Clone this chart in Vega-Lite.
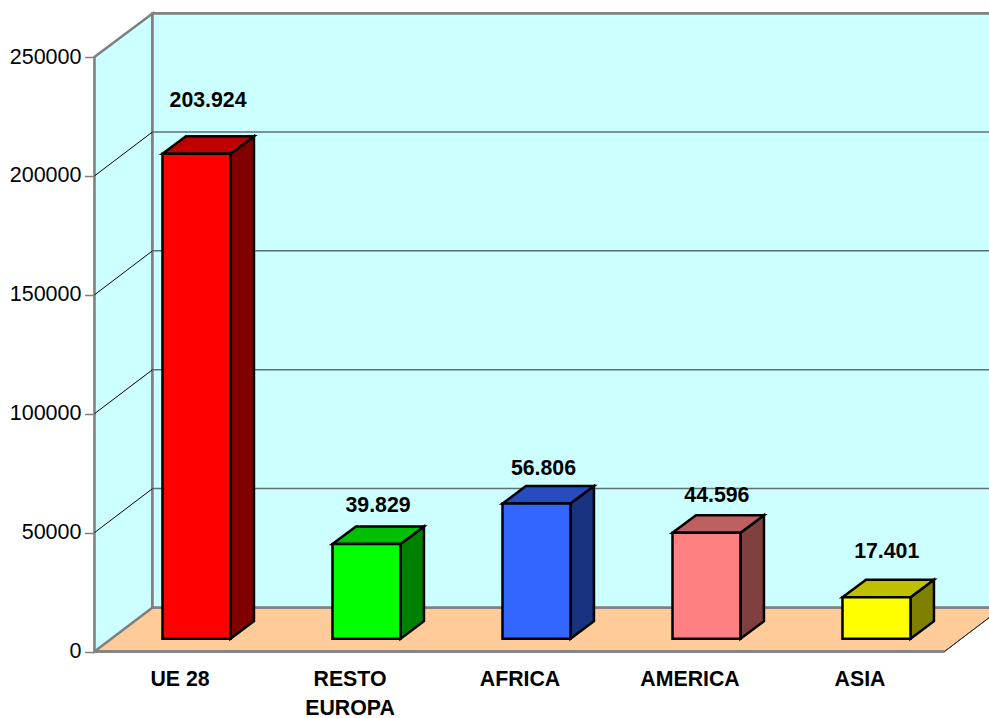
{
"$schema":"https://vega.github.io/schema/vega-lite/v6.json",
"width":894.5,"height":594.5,
"autosize":{"type":"none"},
"padding":{"left":94.5,"top":57,"right":0,"bottom":66.5},
"background":"white",
"config":{"view":{"stroke":null},"font":"Liberation Sans"},
"datasets":{
"bars":[
{"region":"UE 28","value":203924,"label":"203.924"},
{"region":"RESTO EUROPA","value":39829,"label":"39.829"},
{"region":"AFRICA","value":56806,"label":"56.806"},
{"region":"AMERICA","value":44596,"label":"44.596"},
{"region":"ASIA","value":17401,"label":"17.401"}
],
"ticks":[{"tick":50000},{"tick":100000},{"tick":150000},{"tick":200000}],
"frame":[{"depth":0},{"depth":1}]
},
"resolve":{"scale":{"color":"independent"}},
"layer":[
{"data":{"name":"frame"},
 "transform":[{"calculate":"datum.depth*0.3412","as":"x"},{"calculate":"5+datum.depth*0.3412","as":"x2"},{"calculate":"datum.depth*18500","as":"y"}],
 "mark":{"type":"area","fill":"#FFCC99","orient":"horizontal"},
 "encoding":{
  "x":{"field":"x","type":"quantitative","scale":{"domain":[0,5.2618],"nice":false,"zero":false}},
  "x2":{"field":"x2"},
  "y":{"field":"y","type":"quantitative","scale":{"domain":[0,250000],"nice":false,"zero":false}}
 }},
{"data":{"name":"frame"},
 "transform":[{"calculate":"datum.depth*0.3412","as":"x"},{"calculate":"datum.depth*18500","as":"y"},{"calculate":"250000+datum.depth*18279","as":"y2"}],
 "mark":{"type":"area","fill":"#CCFFFF","stroke":"#808080","strokeWidth":2.5,"orient":"vertical"},
 "encoding":{
  "x":{"field":"x","type":"quantitative","scale":{"domain":[0,5.2618],"nice":false,"zero":false},
   "axis":{"values":[0.5,1.5,2.5,3.5,4.5],"grid":false,"domain":false,"ticks":false,"title":null,"orient":"bottom",
    "labelExpr":"datum.value<1?'UE 28':datum.value<2?['RESTO','EUROPA']:datum.value<3?'AFRICA':datum.value<4?'AMERICA':'ASIA'",
    "labelFont":"Liberation Sans","labelFontSize":21.3,"labelFontWeight":"bold","labelColor":"black","labelPadding":17,"labelLineHeight":29,"labelAngle":0,"labelBaseline":"top","labelAlign":"center","labelFlush":false,"labelOverlap":false}},
  "y":{"field":"y","type":"quantitative","scale":{"domain":[0,250000],"nice":false,"zero":false},
   "axis":{"values":[0,50000,100000,150000,200000,250000],"grid":false,"title":null,"orient":"left","format":"d",
    "domain":true,"domainColor":"#808080","domainWidth":2.5,"ticks":true,"tickColor":"#808080","tickWidth":1.5,"tickSize":10,
    "labelFont":"Liberation Sans","labelFontSize":21.5,"labelColor":"black","labelPadding":3.5,"labelOverlap":false,"labelFlush":false}},
  "y2":{"field":"y2"}
 }},
{"data":{"name":"frame"},
 "mark":{"type":"rect","fill":"#CCFFFF","stroke":"#808080","strokeWidth":2.5},
 "encoding":{
  "x":{"datum":0.3412,"type":"quantitative","scale":{"domain":[0,5.2618],"nice":false,"zero":false}},
  "x2":{"datum":5.32},
  "y":{"datum":18500,"type":"quantitative","scale":{"domain":[0,250000],"nice":false,"zero":false}},
  "y2":{"datum":268279}
 }},
{"data":{"name":"ticks"},
 "mark":{"type":"rule","color":"#5F7070","strokeWidth":1.5},
 "transform":[{"calculate":"datum.tick+18500","as":"back"}],
 "encoding":{
  "x":{"datum":0.3412,"type":"quantitative","scale":{"domain":[0,5.2618],"nice":false,"zero":false}},
  "x2":{"datum":5.32},
  "y":{"field":"back","type":"quantitative","scale":{"domain":[0,250000],"nice":false,"zero":false}}
 }},
{"data":{"name":"ticks"},
 "mark":{"type":"rule","color":"black","strokeWidth":1},
 "transform":[{"calculate":"datum.tick+18500","as":"back"}],
 "encoding":{
  "x":{"datum":0,"type":"quantitative","scale":{"domain":[0,5.2618],"nice":false,"zero":false}},
  "x2":{"datum":0.3412},
  "y":{"field":"tick","type":"quantitative","scale":{"domain":[0,250000],"nice":false,"zero":false}},
  "y2":{"field":"back"}
 }},
{"data":{"name":"frame"},
 "mark":{"type":"rule","color":"#808080","strokeWidth":2.5},
 "encoding":{
  "x":{"datum":0,"type":"quantitative","scale":{"domain":[0,5.2618],"nice":false,"zero":false}},
  "x2":{"datum":5},
  "y":{"datum":0,"type":"quantitative","scale":{"domain":[0,250000],"nice":false,"zero":false}}
 }},
{"data":{"name":"frame"},
 "mark":{"type":"rule","color":"#333333","strokeWidth":1},
 "encoding":{
  "x":{"datum":5,"type":"quantitative","scale":{"domain":[0,5.2618],"nice":false,"zero":false}},
  "x2":{"datum":5.3412},
  "y":{"datum":0,"type":"quantitative","scale":{"domain":[0,250000],"nice":false,"zero":false}},
  "y2":{"datum":18500}
 }},
{"data":{"name":"bars"},
 "transform":[{"calculate":"indexof(['UE 28','RESTO EUROPA','AFRICA','AMERICA','ASIA'],datum.region)","as":"i"},{"calculate":"[0,1]","as":"d"},{"flatten":["d"]},
  {"calculate":"datum.i+0.8+datum.d*0.138","as":"x"},{"calculate":"5382+datum.d*7359","as":"y"},{"calculate":"datum.value+5382+datum.d*7359","as":"y2"}],
 "mark":{"type":"area","stroke":"black","strokeWidth":2.5,"orient":"vertical","strokeJoin":"miter"},
 "encoding":{
  "x":{"field":"x","type":"quantitative","scale":{"domain":[0,5.2618],"nice":false,"zero":false}},
  "y":{"field":"y","type":"quantitative","scale":{"domain":[0,250000],"nice":false,"zero":false}},
  "y2":{"field":"y2"},
  "color":{"field":"region","type":"nominal","legend":null,"scale":{"domain":["UE 28","RESTO EUROPA","AFRICA","AMERICA","ASIA"],"range":["#800000","#008000","#1A3380","#804040","#808000"]}}
 }},
{"data":{"name":"bars"},
 "transform":[{"calculate":"indexof(['UE 28','RESTO EUROPA','AFRICA','AMERICA','ASIA'],datum.region)","as":"i"},{"calculate":"[0,1]","as":"d"},{"flatten":["d"]},
  {"calculate":"datum.i+0.4+datum.d*0.138","as":"x"},{"calculate":"datum.i+0.8+datum.d*0.138","as":"x2"},{"calculate":"datum.value+5382+datum.d*7359","as":"y"}],
 "mark":{"type":"area","stroke":"black","strokeWidth":2.5,"orient":"horizontal","strokeJoin":"miter"},
 "encoding":{
  "x":{"field":"x","type":"quantitative","scale":{"domain":[0,5.2618],"nice":false,"zero":false}},
  "x2":{"field":"x2"},
  "y":{"field":"y","type":"quantitative","scale":{"domain":[0,250000],"nice":false,"zero":false}},
  "color":{"field":"region","type":"nominal","legend":null,"scale":{"domain":["UE 28","RESTO EUROPA","AFRICA","AMERICA","ASIA"],"range":["#BF0000","#00BF00","#264CBF","#BF6060","#BFBF00"]}}
 }},
{"data":{"name":"bars"},
 "transform":[{"calculate":"indexof(['UE 28','RESTO EUROPA','AFRICA','AMERICA','ASIA'],datum.region)","as":"i"},
  {"calculate":"datum.i+0.4","as":"x"},{"calculate":"datum.i+0.8","as":"x2"},{"calculate":"5382","as":"y"},{"calculate":"datum.value+5382","as":"y2"}],
 "mark":{"type":"rect","stroke":"black","strokeWidth":2.5},
 "encoding":{
  "x":{"field":"x","type":"quantitative","scale":{"domain":[0,5.2618],"nice":false,"zero":false}},
  "x2":{"field":"x2"},
  "y":{"field":"y","type":"quantitative","scale":{"domain":[0,250000],"nice":false,"zero":false}},
  "y2":{"field":"y2"},
  "color":{"field":"region","type":"nominal","legend":null,"scale":{"domain":["UE 28","RESTO EUROPA","AFRICA","AMERICA","ASIA"],"range":["#FF0000","#00FF00","#3366FF","#FF8080","#FFFF00"]}}
 }},
{"data":{"name":"bars"},
 "transform":[{"calculate":"{'UE 28':0.668,'RESTO EUROPA':1.668,'AFRICA':2.641,'AMERICA':3.661,'ASIA':4.66}[datum.region]","as":"lx"},
  {"calculate":"{'UE 28':231500,'RESTO EUROPA':61200,'AFRICA':76800,'AMERICA':65400,'ASIA':41900}[datum.region]","as":"ly"}],
 "mark":{"type":"text","font":"Liberation Sans","fontSize":21.3,"fontWeight":"bold","color":"black","align":"center","baseline":"middle"},
 "encoding":{
  "x":{"field":"lx","type":"quantitative","scale":{"domain":[0,5.2618],"nice":false,"zero":false}},
  "y":{"field":"ly","type":"quantitative","scale":{"domain":[0,250000],"nice":false,"zero":false}},
  "text":{"field":"label"}
 }}
]
}
